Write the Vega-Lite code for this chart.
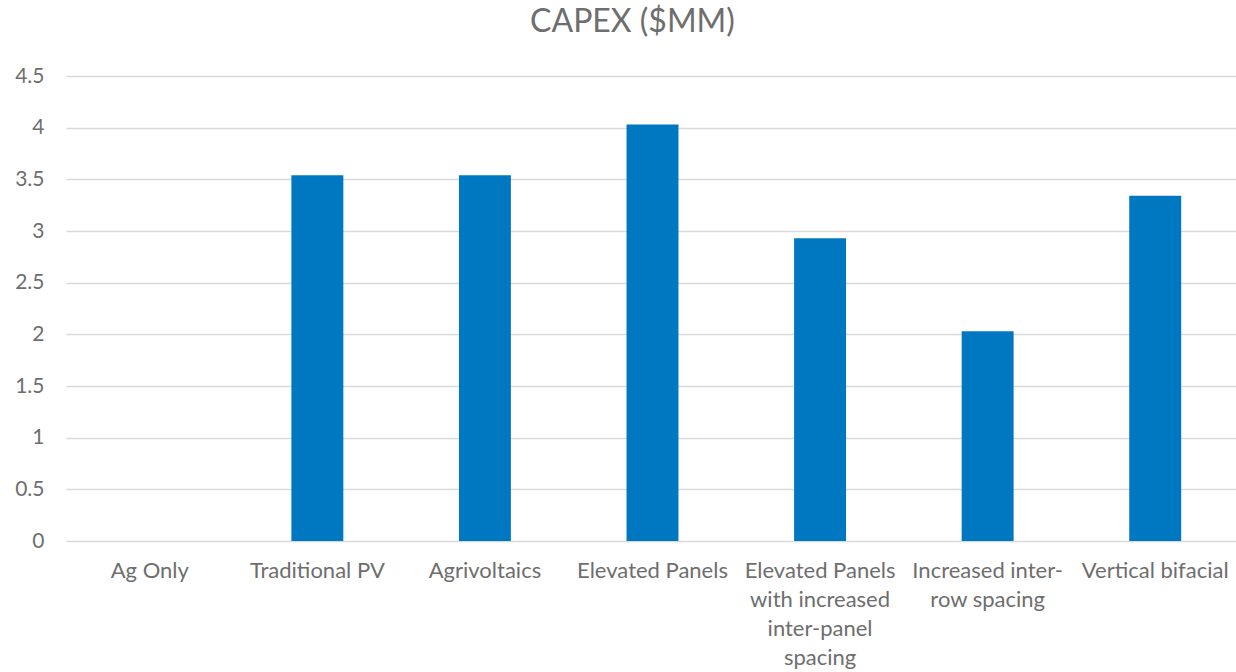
{
  "$schema": "https://vega.github.io/schema/vega-lite/v6.json",
  "autosize": "none",
  "width": 1173,
  "height": 465,
  "padding": {"left": 66, "top": 76, "right": 0, "bottom": 131},
  "background": "white",
  "title": {
    "text": "CAPEX ($MM)",
    "font": "Lato",
    "fontSize": 32,
    "fontWeight": "normal",
    "color": "#6e6e6e",
    "anchor": "middle",
    "dx": -20,
    "offset": 26
  },
  "data": {
    "values": [
      {"scenario": "Ag Only", "capex": 0},
      {"scenario": "Traditional PV", "capex": 3.54},
      {"scenario": "Agrivoltaics", "capex": 3.54},
      {"scenario": "Elevated Panels", "capex": 4.03},
      {"scenario": "Elevated Panels with increased inter-panel spacing", "capex": 2.93},
      {"scenario": "Increased inter-row spacing", "capex": 2.03},
      {"scenario": "Vertical bifacial", "capex": 3.34}
    ]
  },
  "mark": {"type": "bar", "color": "#0078C1"},
  "encoding": {
    "x": {
      "field": "scenario",
      "type": "nominal",
      "sort": null,
      "scale": {"paddingInner": 0.69, "paddingOuter": 0.345},
      "axis": {
        "title": null,
        "labelAngle": 0,
        "labelFont": "Lato",
        "labelFontSize": 22,
        "labelColor": "#6e6e6e",
        "labelPadding": 19,
        "labelLineHeight": 29,
        "labelLimit": 0,
        "labelBaseline": "top",
        "ticks": false,
        "domain": false,
        "labelExpr": "datum.value == 'Elevated Panels with increased inter-panel spacing' ? ['Elevated Panels', 'with increased', 'inter-panel', 'spacing'] : datum.value == 'Increased inter-row spacing' ? ['Increased inter-', 'row spacing'] : datum.value"
      }
    },
    "y": {
      "field": "capex",
      "type": "quantitative",
      "scale": {"domain": [0, 4.5]},
      "axis": {
        "title": null,
        "values": [0, 0.5, 1, 1.5, 2, 2.5, 3, 3.5, 4, 4.5],
        "labelExpr": "datum.value",
        "labelFont": "Lato",
        "labelFontSize": 21,
        "labelColor": "#6e6e6e",
        "labelPadding": 22,
        "ticks": false,
        "domain": false,
        "grid": true,
        "gridColor": "#d9d9d9",
        "gridWidth": 1.5
      }
    }
  },
  "config": {"view": {"stroke": null}}
}
